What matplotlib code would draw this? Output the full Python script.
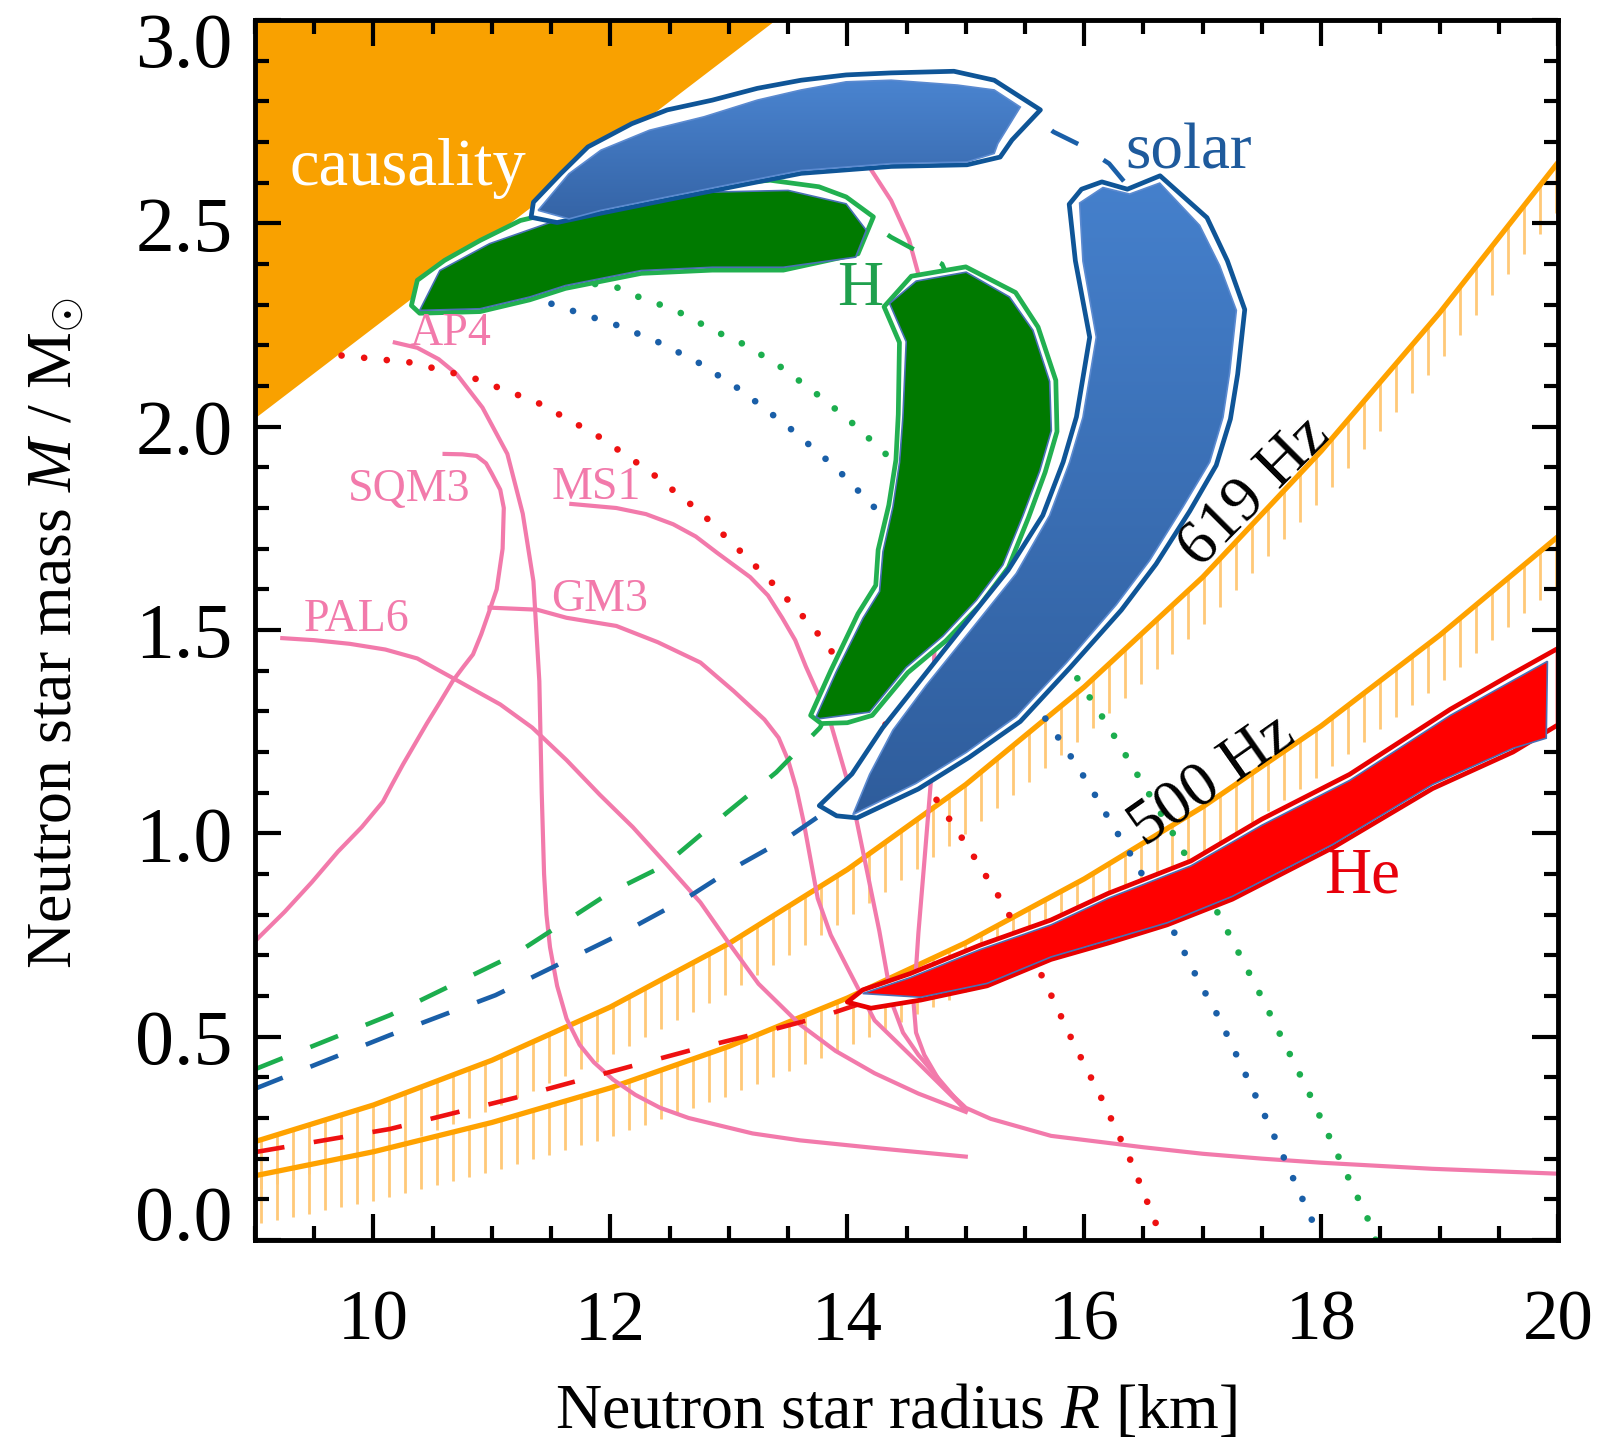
import numpy as np
import matplotlib
matplotlib.use("Agg")
import matplotlib.pyplot as plt
from matplotlib.patches import Polygon
from matplotlib.colors import LinearSegmentedColormap
from matplotlib.ticker import MultipleLocator
import matplotlib.transforms as mtransforms

plt.rcParams['font.family'] = ['Liberation Serif', 'DejaVu Serif']
plt.rcParams['mathtext.fontset'] = 'custom'
plt.rcParams['mathtext.rm'] = 'Liberation Serif'
plt.rcParams['mathtext.it'] = 'Liberation Serif:italic'

# everything below is radius R [km] and mass M [Msun]

causality_R = [9.0, 13.4, 9.0]
causality_M = [2.02, 3.0, 3.0]

# spin (mass-shedding) limits
spin_R = [9, 10, 11, 12, 13, 14, 15, 16, 17, 18, 19, 20]
f619_M = [0.242, 0.332, 0.442, 0.573, 0.729, 0.911, 1.12, 1.36, 1.63, 1.94, 2.28, 2.65]
f500_M = [0.158, 0.217, 0.289, 0.374, 0.476, 0.595, 0.731, 0.888, 1.065, 1.264, 1.487, 1.73]

# EOS mass-radius curves
ap4_R = [10.18, 10.37, 10.55, 10.70, 10.92, 11.13, 11.26, 11.35, 11.40, 11.42, 11.44, 11.46,
         11.49, 11.55, 11.63, 11.74, 11.86, 12.02, 12.21, 12.42, 12.66, 13.20, 13.60, 14.24, 15.00]
ap4_M = [2.207, 2.194, 2.166, 2.130, 2.047, 1.933, 1.786, 1.620, 1.374, 1.10, 0.90, 0.80,
         0.72, 0.625, 0.544, 0.480, 0.437, 0.395, 0.357, 0.325, 0.300, 0.262, 0.245, 0.226, 0.205]
sqm3_R = [10.60, 10.75, 10.87, 10.95, 11.00, 11.07, 11.10, 11.09, 11.04, 10.97, 10.91, 10.84,
          10.76, 10.67, 10.56, 10.45, 10.35, 10.25, 10.16, 10.08, 9.90, 9.70, 9.48, 9.25, 9.00]
sqm3_M = [1.933, 1.932, 1.928, 1.910, 1.884, 1.845, 1.800, 1.700, 1.600, 1.540, 1.490, 1.440,
          1.410, 1.375, 1.322, 1.270, 1.220, 1.170, 1.122, 1.078, 1.015, 0.955, 0.880, 0.807, 0.735]
ms1_R = [11.67, 12.05, 12.30, 12.53, 12.72, 12.90, 13.18, 13.33, 13.45, 13.56, 13.65, 13.85,
         14.03, 14.15, 14.27, 14.38, 14.47, 14.60, 15.00]
ms1_M = [1.810, 1.800, 1.785, 1.760, 1.730, 1.690, 1.630, 1.585, 1.530, 1.475, 1.410, 1.280,
         1.100, 0.930, 0.760, 0.580, 0.510, 0.455, 0.318]
gm3_R = [10.98, 11.38, 11.63, 12.05, 12.40, 12.76, 13.04, 13.30, 13.42, 13.50, 13.57, 13.63,
         13.69, 13.75, 13.86, 14.00, 14.23, 14.53, 15.00]
gm3_M = [1.555, 1.550, 1.530, 1.510, 1.470, 1.420, 1.350, 1.280, 1.235, 1.180, 1.110, 1.030,
         0.935, 0.840, 0.750, 0.670, 0.540, 0.455, 0.320]
pal6_R = [9.23, 9.50, 9.80, 10.10, 10.37, 10.65, 11.07, 11.34, 11.63, 11.91, 12.19, 12.47,
          12.76, 13.00, 13.25, 13.60, 13.90, 14.23, 14.60, 15.00]
pal6_M = [1.480, 1.475, 1.466, 1.452, 1.430, 1.385, 1.317, 1.260, 1.180, 1.095, 1.015, 0.925,
          0.830, 0.730, 0.630, 0.530, 0.465, 0.410, 0.360, 0.315]
stiff_R = [14.12, 14.16, 14.37, 14.52, 14.60, 14.68, 14.73, 14.74, 14.72, 14.71, 14.65, 14.60,
           14.56, 14.58, 14.65, 14.80, 15.00, 15.21, 15.72, 16.50, 17.00, 17.50, 18.00, 18.94,
           20.00]
stiff_M = [2.70, 2.650, 2.556, 2.460, 2.375, 2.10, 1.80, 1.50, 1.30, 1.145, 0.930, 0.755,
           0.580, 0.510, 0.455, 0.380, 0.325, 0.298, 0.256, 0.228, 0.212, 0.200, 0.190, 0.175,
           0.163]

# dashed tracks (solar, H, He)
dash_H_R = [9.0, 10.14, 11.18, 12.0, 12.45, 12.98, 13.40, 13.77, 14.10, 14.50, 14.85, 14.95,
            14.80, 14.60, 14.37, 14.20, 14.00, 13.00, 12.00, 11.00, 10.50]
dash_H_M = [0.42, 0.553, 0.70, 0.855, 0.92, 1.05, 1.15, 1.26, 1.45, 1.75, 2.05, 2.30,
            2.40, 2.43, 2.466, 2.50, 2.52, 2.50, 2.45, 2.38, 2.32]
dash_sol_R = [9.0, 10.14, 11.03, 12.07, 12.64, 13.03, 13.49, 13.80, 14.20, 14.60, 15.10, 15.60,
              16.00, 16.30, 16.45, 16.42, 16.35, 16.21, 15.97, 15.74, 15.50, 15.20, 14.50,
              13.50, 12.50, 11.80, 11.40]
dash_sol_M = [0.372, 0.504, 0.602, 0.750, 0.840, 0.913, 0.988, 1.050, 1.130, 1.240, 1.420, 1.650,
              1.900, 2.100, 2.350, 2.520, 2.598, 2.647, 2.692, 2.725, 2.780, 2.760, 2.750,
              2.720, 2.640, 2.570, 2.520]
dash_He_R = [9.0, 10.14, 11.2, 12.21, 12.76, 13.30, 13.79, 14.10, 14.30]
dash_He_M = [0.216, 0.273, 0.350, 0.430, 0.473, 0.512, 0.550, 0.580, 0.600]

# dotted tracks
dot_He_R = [9.73, 10.31, 10.84, 11.38, 11.88, 12.33, 12.76, 13.32, 13.70, 13.94, 14.27, 14.69,
            15.01, 15.31, 15.66, 15.90, 16.16, 16.40, 16.66]
dot_He_M = [2.175, 2.158, 2.120, 2.060, 1.980, 1.890, 1.790, 1.630, 1.510, 1.420, 1.290, 1.110,
            0.970, 0.830, 0.640, 0.490, 0.340, 0.190, 0.0]
dot_sol_R = [11.32, 11.68, 12.05, 12.39, 12.73, 13.10, 13.50, 13.90, 14.30, 14.70, 15.10, 15.40,
             15.63, 15.84, 16.04, 16.23, 16.43, 16.60, 16.79, 16.96, 17.14, 17.55, 17.93, 18.00]
dot_sol_M = [2.320, 2.285, 2.250, 2.210, 2.160, 2.090, 2.000, 1.900, 1.780, 1.650, 1.500, 1.380,
             1.300, 1.210, 1.120, 1.024, 0.930, 0.840, 0.740, 0.640, 0.545, 0.290, 0.044, 0.0]
dot_H_R = [11.50, 11.88, 12.05, 12.23, 12.42, 12.59, 12.74, 12.92, 13.08, 13.40, 13.70, 14.00,
           14.30, 14.60, 15.00, 15.40, 15.70, 15.90, 16.20, 16.49, 16.79, 17.16, 17.51, 17.90,
           18.16, 18.40, 18.46]
dot_H_M = [2.380, 2.350, 2.343, 2.320, 2.300, 2.280, 2.257, 2.230, 2.210, 2.155, 2.090, 2.020,
           1.940, 1.850, 1.720, 1.580, 1.480, 1.400, 1.265, 1.124, 0.980, 0.787, 0.590, 0.360,
           0.196, 0.048, 0.0]

# confidence regions (fill outline and outer contour)
sol_top_R = [11.39, 11.65, 11.92, 12.33, 12.79, 13.24, 13.61, 13.99, 14.37, 14.93, 15.24, 15.46,
             15.27, 15.24, 15.01, 14.37, 13.61, 13.05, 12.48, 11.92, 11.65]
sol_top_M = [2.532, 2.622, 2.680, 2.729, 2.762, 2.803, 2.828, 2.848, 2.852, 2.840, 2.828, 2.786,
             2.696, 2.672, 2.651, 2.647, 2.630, 2.598, 2.565, 2.532, 2.511]
sol_top_out_R = [11.35, 11.58, 11.81, 12.18, 12.48, 12.86, 13.24, 13.61, 13.99, 14.37, 14.90, 15.24,
                 15.63, 15.39, 15.29, 15.01, 14.37, 13.61, 13.05, 12.48, 11.92, 11.55, 11.33]
sol_top_out_M = [2.552, 2.622, 2.688, 2.745, 2.779, 2.803, 2.832, 2.852, 2.865, 2.870, 2.874, 2.852,
                 2.779, 2.705, 2.663, 2.644, 2.640, 2.623, 2.591, 2.558, 2.525, 2.502, 2.515]
sol_low_R = [15.961, 16.158, 16.383, 16.637, 16.974, 17.143, 17.284, 17.227, 17.171, 17.059,
             16.834, 16.552, 16.270, 15.848, 15.426, 15.004, 14.581, 14.047, 14.188, 14.385,
             14.666, 15.032, 15.426, 15.708, 15.877, 15.989, 16.102, 15.989]
sol_low_M = [2.550, 2.588, 2.572, 2.599, 2.495, 2.396, 2.286, 2.132, 2.023, 1.913,
             1.803, 1.671, 1.562, 1.419, 1.287, 1.199, 1.123, 1.046, 1.145, 1.254,
             1.364, 1.496, 1.639, 1.782, 1.913, 2.023, 2.220, 2.407]
sol_low_out_R = [15.873, 15.977, 16.149, 16.364, 16.640, 17.036, 17.208, 17.355, 17.295, 17.234,
                 17.114, 16.890, 16.606, 16.313, 15.882, 15.460, 15.029, 14.599, 14.082, 13.910,
                 13.763, 14.039, 14.297, 14.599, 14.969, 15.357, 15.650, 15.822, 15.934, 16.046,
                 15.925]
sol_low_out_M = [2.547, 2.584, 2.602, 2.584, 2.617, 2.514, 2.408, 2.288, 2.129, 2.019,
                 1.905, 1.792, 1.662, 1.549, 1.408, 1.275, 1.187, 1.109, 1.038, 1.043,
                 1.068, 1.146, 1.259, 1.370, 1.506, 1.647, 1.782, 1.913, 2.024, 2.220,
                 2.408]
H_top_R = [10.39, 10.56, 10.98, 11.54, 11.92, 12.45, 12.86, 13.50, 13.99, 14.16, 14.07, 13.46,
           12.86, 12.26, 11.62, 11.32, 10.90]
H_top_M = [2.286, 2.384, 2.450, 2.507, 2.536, 2.565, 2.577, 2.581, 2.548, 2.483, 2.417, 2.392,
           2.392, 2.384, 2.347, 2.319, 2.290]
H_top_out_R = [10.32, 10.37, 10.60, 10.90, 11.24, 12.00, 12.90, 13.35, 13.76, 13.99, 14.22, 14.16,
               14.09, 13.46, 12.86, 12.26, 11.62, 11.32, 10.90, 10.39]
H_top_out_M = [2.298, 2.360, 2.409, 2.458, 2.507, 2.560, 2.595, 2.606, 2.590, 2.565, 2.516, 2.474,
               2.425, 2.385, 2.385, 2.377, 2.340, 2.312, 2.283, 2.279]
H_low_R = [14.357, 14.581, 15.003, 15.369, 15.567, 15.708, 15.722, 15.624, 15.482, 15.313, 15.089,
           14.807, 14.497, 14.188, 13.766, 13.737, 13.906, 14.132, 14.272, 14.301, 14.385, 14.441,
           14.469, 14.497]
H_low_M = [2.303, 2.358, 2.380, 2.319, 2.237, 2.111, 1.990, 1.891, 1.781, 1.660, 1.573,
           1.485, 1.408, 1.298, 1.282, 1.287, 1.397, 1.529, 1.595, 1.693, 1.803, 1.913,
           2.023, 2.209]
H_low_out_R = [14.31, 14.54, 15.00, 15.42, 15.61, 15.76, 15.77, 15.67, 15.53, 15.36, 15.12, 14.83,
               14.51, 14.21, 14.00, 13.78, 13.69, 13.86, 14.09, 14.24, 14.26, 14.35, 14.41, 14.43,
               14.44]
H_low_out_M = [2.295, 2.370, 2.393, 2.330, 2.245, 2.114, 1.988, 1.888, 1.777, 1.654, 1.561, 1.473,
               1.395, 1.290, 1.272, 1.270, 1.290, 1.400, 1.540, 1.610, 1.697, 1.807, 1.918, 2.030,
               2.207]
He_R = [14.13, 14.53, 15.12, 15.72, 16.20, 16.90, 17.50, 18.24, 19.09, 19.91, 19.90, 19.62,
        18.94, 18.10, 17.25, 16.70, 16.20, 15.72, 15.18, 14.62]
He_M = [0.606, 0.645, 0.714, 0.775, 0.840, 0.920, 1.020, 1.130, 1.290, 1.423, 1.234, 1.209,
        1.120, 0.973, 0.845, 0.780, 0.737, 0.696, 0.631, 0.597]
He_out_R = [14.00, 14.13, 14.53, 15.12, 15.72, 16.20, 16.90, 17.50, 18.24, 19.09, 19.60, 20.00,
            20.00, 19.62, 18.94, 18.10, 17.25, 16.70, 16.20, 15.72, 15.18, 14.62, 14.20]
He_out_M = [0.585, 0.615, 0.655, 0.725, 0.787, 0.852, 0.932, 1.035, 1.145, 1.305, 1.390, 1.455,
            1.267, 1.200, 1.110, 0.965, 0.838, 0.775, 0.730, 0.690, 0.625, 0.590, 0.570]

ORANGE = '#F9A100'
PINK = '#F27AAB'
GREEN = '#1CAE4E'
BLUE = '#1A5FA8'
RED = '#EE1111'

fig = plt.figure(figsize=(16, 14.41), dpi=100)
ax = fig.add_axes([0.1594, 0.1395, 0.8144, 0.8466])

ax.fill(causality_R, causality_M, color=ORANGE, lw=0, zorder=1)

# spin limits with hatching below
hatch_R = np.arange(9.05, 20.0, 0.135)
for m in (f619_M, f500_M):
    top = np.interp(hatch_R, spin_R, m)
    ax.vlines(hatch_R, top - 0.12, top, colors='#FFC978', lw=2.0, zorder=1.5)
    ax.plot(spin_R, m, color='#FFA200', lw=3.8, zorder=2, solid_capstyle='butt')

for r, m in [(ap4_R, ap4_M), (sqm3_R, sqm3_M), (ms1_R, ms1_M), (gm3_R, gm3_M),
             (pal6_R, pal6_M), (stiff_R, stiff_M)]:
    ax.plot(r, m, color=PINK, lw=3.0, zorder=2.5, solid_joinstyle='round')

dash_kw = dict(lw=3.3, linestyle=(0, (6.5, 6.5)), dash_capstyle='butt', zorder=3)
ax.plot(dash_H_R, dash_H_M, color=GREEN, **dash_kw)
ax.plot(dash_sol_R, dash_sol_M, color=BLUE, **dash_kw)
ax.plot(dash_He_R, dash_He_M, color=RED, **dash_kw)

dot_kw = dict(lw=4.8, linestyle=(0, (0.01, 3.4)), dash_capstyle='round', zorder=3)
ax.plot(dot_He_R, dot_He_M, color=RED, **dot_kw)
ax.plot(dot_sol_R, dot_sol_M, color=BLUE, **dot_kw)
ax.plot(dot_H_R, dot_H_M, color=GREEN, **dot_kw)


def region(fill_R, fill_M, out_R, out_M, out_color, zo, face=None, grad=None):
    ax.add_patch(Polygon(np.column_stack([out_R, out_M]), closed=True, facecolor='white',
                         edgecolor=out_color, lw=3.4, joinstyle='round', zorder=zo))
    if grad is None:
        ax.add_patch(Polygon(np.column_stack([fill_R, fill_M]), closed=True, facecolor=face,
                             edgecolor='#4A70B5', lw=1.2, zorder=zo + 0.1))
    else:
        poly = Polygon(np.column_stack([fill_R, fill_M]), closed=True, facecolor='none',
                       edgecolor='#5B8AD0', lw=1.2, zorder=zo + 0.2)
        ax.add_patch(poly)
        cmap = LinearSegmentedColormap.from_list('g', grad)
        img = ax.imshow(np.linspace(0, 1, 256).reshape(-1, 1), cmap=cmap, origin='lower',
                        aspect='auto', zorder=zo + 0.1,
                        extent=[min(fill_R), max(fill_R), min(fill_M), max(fill_M)])
        img.set_clip_path(poly)


region(He_R, He_M, He_out_R, He_out_M, '#E80000', 4, face='#FF0000')
region(H_low_R, H_low_M, H_low_out_R, H_low_out_M, '#22B050', 4, face='#007A00')
region(H_top_R, H_top_M, H_top_out_R, H_top_out_M, '#22B050', 4.5, face='#007A00')
region(sol_low_R, sol_low_M, sol_low_out_R, sol_low_out_M, '#0F5597', 5,
       grad=['#2F5D9C', '#4580CC'])
region(sol_top_R, sol_top_M, sol_top_out_R, sol_top_out_M, '#0F5597', 5.5,
       grad=['#3564A6', '#4A84D0'])

# labels
ax.text(10.29, 2.594, 'causality', color='white', fontsize=48, ha='center', va='baseline', zorder=7)
ax.text(16.88, 2.634, 'solar', color='#1E5A9C', fontsize=47, ha='center', va='baseline', zorder=7)
ax.text(14.11, 2.30, 'H', color='#1FA04D', fontsize=46, ha='center', va='baseline', zorder=7)
ax.text(18.35, 0.855, 'He', color='#E8000B', fontsize=47, ha='center', va='baseline', zorder=7)
ax.text(17.44, 1.84, '619 Hz', fontsize=46, rotation=45, rotation_mode='anchor',
        ha='center', va='center', zorder=7)
ax.text(17.08, 1.13, '500 Hz', fontsize=46, rotation=35, rotation_mode='anchor',
        ha='center', va='center', zorder=7)
for name, r, m in [('AP4', 10.65, 2.202), ('SQM3', 10.30, 1.817), ('MS1', 11.88, 1.823),
                   ('GM3', 11.91, 1.546), ('PAL6', 9.86, 1.498)]:
    ax.text(r, m, name, color=PINK, fontsize=33, ha='center', va='baseline', zorder=7)

ax.set_xlim(9, 20)
ax.set_ylim(0, 3)
ax.set_xticks([10, 12, 14, 16, 18, 20])
ax.set_yticks([0.0, 0.5, 1.0, 1.5, 2.0, 2.5, 3.0])
ax.set_yticklabels(['', '0.5', '1.0', '1.5', '2.0', '2.5', ''])
ax.xaxis.set_minor_locator(MultipleLocator(0.5))
ax.yaxis.set_minor_locator(MultipleLocator(0.1))
ax.tick_params(which='both', direction='in', top=True, right=True, width=3, color='black')
ax.tick_params(which='major', length=19)
ax.tick_params(which='minor', length=10)
ax.tick_params(axis='x', labelsize=51, pad=36)
ax.tick_params(axis='y', labelsize=56, pad=16)
# end labels of the mass axis sit inside the axis range
ytrans = mtransforms.blended_transform_factory(ax.transAxes, ax.transData)
ax.text(-0.0175, 0.0, '0.0', fontsize=56, ha='right', va='baseline', transform=ytrans,
        clip_on=False)
ax.text(-0.0175, 2.884, '3.0', fontsize=56, ha='right', va='baseline', transform=ytrans,
        clip_on=False)
for s in ax.spines.values():
    s.set_linewidth(3.5)
    s.set_zorder(8)

fig.text(0.56, 0.009, r'Neutron star radius $R$ [km]', fontsize=46, ha='center', va='baseline')
fig.text(0.036, 0.5607, r'Neutron star mass $M$ / M$_{\odot}$', fontsize=46, rotation=90,
         ha='center', va='center')

fig.savefig('out.png', dpi=100)
